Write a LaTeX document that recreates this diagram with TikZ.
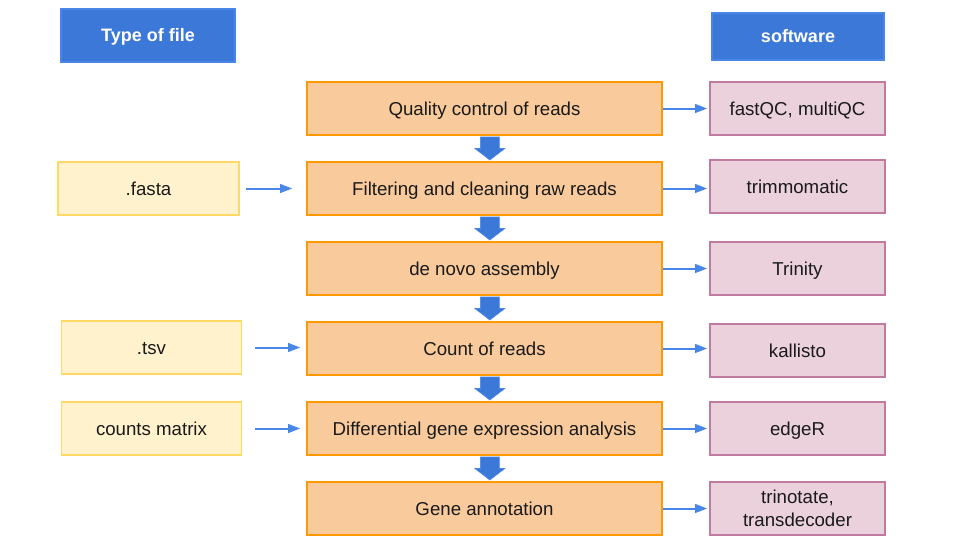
\documentclass[tikz,border=0pt]{standalone}
\usepackage{fontspec}
\setmainfont{Liberation Sans}
\usetikzlibrary{arrows.meta,calc}
\definecolor{hdrfill}{HTML}{3C78D8}
\definecolor{hdrdraw}{HTML}{4A86E8}
\definecolor{stepfill}{HTML}{F9CB9C}
\definecolor{stepdraw}{HTML}{FF9900}
\definecolor{filefill}{HTML}{FFF2CC}
\definecolor{filedraw}{HTML}{FFD966}
\definecolor{softfill}{HTML}{EAD1DC}
\definecolor{softdraw}{HTML}{C27BA0}
\definecolor{arrowblue}{HTML}{4A86E8}
\definecolor{txt}{HTML}{1A1A1A}
\tikzset{
  base/.style={rectangle, inner sep=0pt, line width=1.2pt, align=center,
    font=\fontsize{14}{17}\selectfont, text=txt, text height=10pt, text depth=0pt},
  header/.style={base, fill=hdrfill, draw=hdrdraw, line width=0.8pt, text=white,
    font=\fontsize{13.5}{16}\selectfont\bfseries, text height=9.7pt},
  stepbox/.style={base, fill=stepfill, draw=stepdraw, minimum width=266.25pt, minimum height=39.75pt},
  filebox/.style={base, fill=filefill, draw=filedraw, minimum width=135pt, minimum height=40pt},
  softbox/.style={base, fill=softfill, draw=softdraw, minimum width=131.25pt, minimum height=39.75pt},
  link/.style={draw=arrowblue, line width=1.5pt, -{Triangle[length=9pt,width=6.5pt]}},
  blockarrow/.style={fill=hdrfill, draw=hdrdraw, line width=0.4pt},
}
\begin{document}
\begin{tikzpicture}[x=0.75pt,y=-0.75pt]
\useasboundingbox (0,0) rectangle (960,540);
% headers
\node[header, minimum width=130.5pt, minimum height=39.75pt] (h1) at (148,35.5) {Type of file};
\node[header, minimum width=129pt, minimum height=35.25pt] (h2) at (798,36.5) {software};
% steps
\node[stepbox] (m1) at (484.5,108.5) {Quality control of reads};
\node[stepbox] (m2) at (484.5,188.5) {Filtering and cleaning raw reads};
\node[stepbox] (m3) at (484.5,268.5) {de novo assembly};
\node[stepbox] (m4) at (484.5,348.5) {Count of reads};
\node[stepbox] (m5) at (484.5,428.5) {Differential gene expression analysis};
\node[stepbox] (m6) at (484.5,508.5) {Gene annotation};
% software
\node[softbox] (r1) at (797.5,108.5) {fastQC, multiQC};
\node[softbox] (r2) at (797.5,186.5) {trimmomatic};
\node[softbox] (r3) at (797.5,268.5) {Trinity};
\node[softbox] (r4) at (797.5,350.5) {kallisto};
\node[softbox] (r5) at (797.5,428.5) {edgeR};
\node[softbox, text height=, text depth=] (r6) at (797.5,508.5) {trinotate,\\transdecoder};
% files
\node[filebox, minimum width=135.75pt] (l2) at (148.5,188.5) {.fasta};
\node[filebox] (l4) at (151.5,347.5) {.tsv};
\node[filebox] (l5) at (151.5,428.5) {counts matrix};
% left links
\draw[link, shorten <=4.5pt, shorten >=10.5pt] (l2.east) -- (l2.east -| m2.west);
\draw[link, shorten <=9.75pt, shorten >=4.5pt] (l4.east) -- (l4.east -| m4.west);
\draw[link, shorten <=9.75pt, shorten >=4.5pt] (l5.east) -- (l5.east -| m5.west);
% right links
\foreach \i in {1,...,6}{
  \draw[link, shorten >=1.5pt] (m\i.east) -- (m\i.east -| r\i.west);
}
% block arrows
\foreach \i/\j in {1/2,2/3,3/4,4/5,5/6}{
  \begin{scope}[shift={($(m\i.south)!0.5!(m\j.north)$)}, xshift=4pt]
    \filldraw[blockarrow] (-9.5,-11.5) -- (9.5,-11.5) -- (9.5,0) -- (15,0) -- (0,11.5) -- (-15,0) -- (-9.5,0) -- cycle;
  \end{scope}
}
\end{tikzpicture}
\end{document}
